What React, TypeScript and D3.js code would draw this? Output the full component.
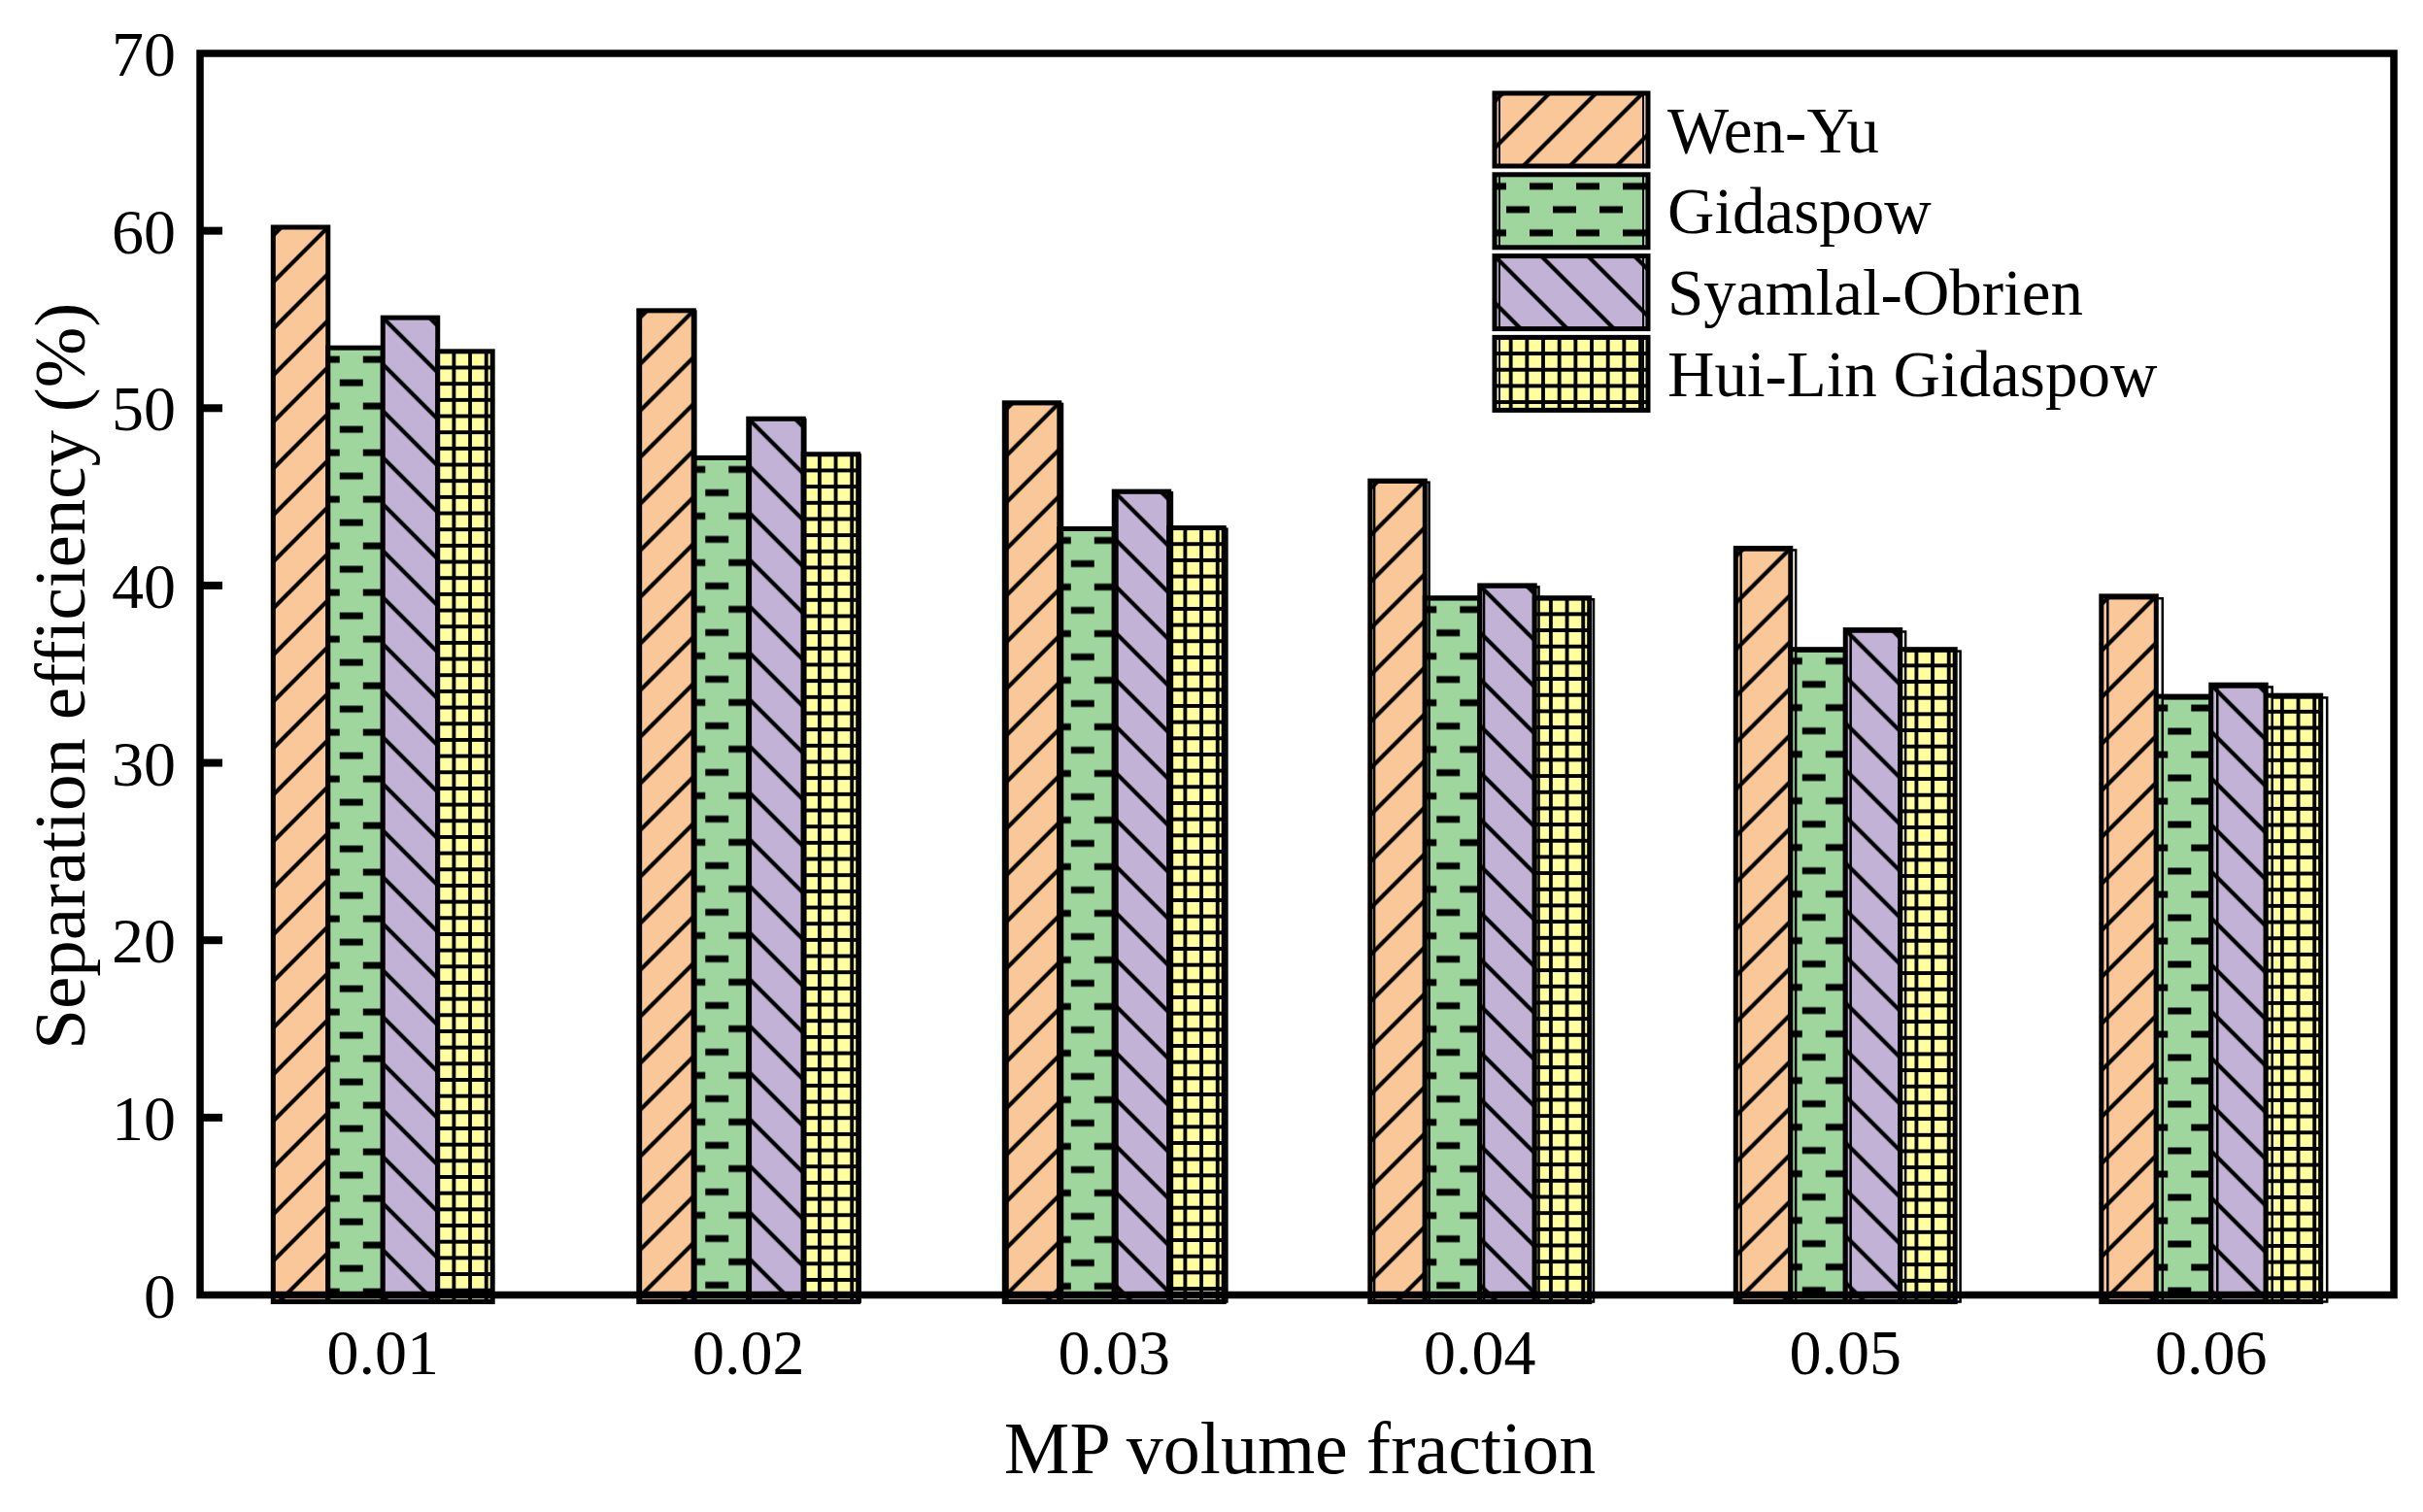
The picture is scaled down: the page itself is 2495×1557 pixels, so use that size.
import React from 'react';
import * as d3 from 'd3';

const categories = ['0.01', '0.02', '0.03', '0.04', '0.05', '0.06'];
const seriesNames = ['Wen-Yu', 'Gidaspow', 'Syamlal-Obrien', 'Hui-Lin Gidaspow'];
const wenYu = [60.2, 55.5, 50.3, 45.9, 42.1, 39.4];
const gidaspow = [53.4, 47.2, 43.2, 39.3, 36.4, 33.75];
const syamlal = [55.1, 49.4, 45.3, 40.0, 37.5, 34.4];
const huiLin = [53.2, 47.4, 43.25, 39.3, 36.4, 33.8];
const yTicks = [0, 10, 20, 30, 40, 50, 60, 70];
const fills = ['#FAC898', '#9ED69E', '#C1B2D6', '#FFFFA0'];

const seriesValues = [wenYu, gidaspow, syamlal, huiLin];
const FONT = "'Liberation Serif', 'Times New Roman', serif";

const W = 2495;
const H = 1557;
const PL = 206;
const PR = 2465;
const PT = 55;
const PB = 1333.5;

function Patterns({ bw }: { bw: number }) {
  const t = 16.67;
  return (
    <defs>
      <pattern id="pat0" patternUnits="userSpaceOnUse" x={bw} y={0} width={48} height={48}>
        <rect width={48} height={48} fill={fills[0]} />
        <path d="M0,48 L48,0 M-12,12 L12,-12 M36,60 L60,36" stroke="#000" strokeWidth={4.2} />
      </pattern>
      <pattern id="pat1" patternUnits="userSpaceOnUse" x={0} y={0} width={48} height={48}>
        <rect width={48} height={48} fill={fills[1]} />
        <rect x={0} y={8.5} width={12} height={7} fill="#000" />
        <rect x={36} y={8.5} width={12} height={7} fill="#000" />
        <rect x={12} y={32.5} width={24} height={7} fill="#000" />
      </pattern>
      <pattern id="pat2" patternUnits="userSpaceOnUse" x={0} y={0} width={48} height={48}>
        <rect width={48} height={48} fill={fills[2]} />
        <path d="M0,0 L48,48 M-12,36 L12,60 M36,-12 L60,12" stroke="#000" strokeWidth={4.2} />
      </pattern>
      <pattern id="pat3" patternUnits="userSpaceOnUse" x={0} y={0} width={t} height={t}>
        <rect width={t} height={t} fill={fills[3]} />
        <path d={`M0,0 V${t} M${t},0 V${t} M0,0 H${t} M0,${t} H${t}`} stroke="#000" strokeWidth={3.8} />
      </pattern>
    </defs>
  );
}

export default function App() {
  const x0 = d3.scaleBand<string>().domain(categories).range([PL, PR]).padding(0);
  const groupW = x0.bandwidth() * 0.6;
  const x1 = d3.scaleBand<string>().domain(seriesNames).range([-groupW / 2, groupW / 2]).padding(0);
  const y = d3.scaleLinear().domain([0, 70]).range([PB, PT]);
  const bw = x1.bandwidth();
  const base = y(0) + 7;

  const bars: React.ReactNode[] = [];
  categories.forEach((c, ci) => {
    const cx = (x0(c) as number) + x0.bandwidth() / 2;
    seriesNames.forEach((s, si) => {
      const v = seriesValues[si][ci];
      const bx = cx + (x1(s) as number);
      const by = y(v);
      const bh = base - by;
      const off = ci === 0 ? 0.5 : 1 + ci * 1.1;
      bars.push(
        <g key={`${c}-${s}`} transform={`translate(${bx},${by})`}>
          <rect x={0} y={0} width={bw} height={bh} fill={`url(#pat${si})`} />
          <rect x={0} y={0} width={bw} height={bh} fill="none" stroke="#000" strokeWidth={5} />
          <rect x={off} y={off * 0.35} width={bw} height={bh - off * 0.35} fill="none" stroke="#000" strokeWidth={2.5} />
        </g>
      );
    });
  });

  const legX = 1539;
  const legY0 = 96;
  const legStep = 83.8;
  const legW = 158;
  const legH = 75;

  return (
    <svg width={W} height={H} viewBox={`0 0 ${W} ${H}`} style={{ position: 'fixed', left: 0, top: 0, background: '#fff' }}>
      <Patterns bw={bw} />
      <rect x={0} y={0} width={W} height={H} fill="#fff" />
      {bars}
      {/* frame */}
      <rect x={PL} y={PT} width={PR - PL} height={PB - PT} fill="none" stroke="#000" strokeWidth={7.5} />
      {/* y ticks */}
      {yTicks.filter((t) => t > 0 && t < 70).map((t) => (
        <line key={`tk${t}`} x1={PL} x2={PL + 23} y1={y(t)} y2={y(t)} stroke="#000" strokeWidth={8} />
      ))}
      {yTicks.map((t) => (
        <text key={`yl${t}`} x={181} y={y(t) + 23} textAnchor="end" fontFamily={FONT} fontSize={66} fill="#000">
          {t}
        </text>
      ))}
      {categories.map((c) => (
        <text key={`xl${c}`} x={(x0(c) as number) + x0.bandwidth() / 2} y={1415} textAnchor="middle" fontFamily={FONT} fontSize={66} fill="#000">
          {c}
        </text>
      ))}
      <text x={(PL + PR) / 2 + 3} y={1517} textAnchor="middle" fontFamily={FONT} fontSize={76} fill="#000">
        MP volume fraction
      </text>
      <text transform={`translate(87,${(PT + PB) / 2 + 2}) rotate(-90)`} textAnchor="middle" fontFamily={FONT} fontSize={75} fill="#000">
        Separation efficiency (%)
      </text>
      {/* legend */}
      {seriesNames.map((s, si) => {
        const ly = legY0 + si * legStep;
        return (
          <g key={`leg${s}`}>
            <g transform={`translate(${legX},${ly})`}>
              <rect x={0} y={0} width={legW} height={legH} fill={`url(#pat${si})`} />
              <rect x={0} y={0} width={legW} height={legH} fill="none" stroke="#000" strokeWidth={5} />
              <line x1={5} x2={5} y1={0} y2={legH} stroke="#000" strokeWidth={2} />
              <line x1={legW - 5} x2={legW - 5} y1={0} y2={legH} stroke="#000" strokeWidth={2} />
            </g>
            <text x={1717} y={ly + legH / 2 + 23} fontFamily={FONT} fontSize={67} fill="#000">
              {s}
            </text>
          </g>
        );
      })}
    </svg>
  );
}
